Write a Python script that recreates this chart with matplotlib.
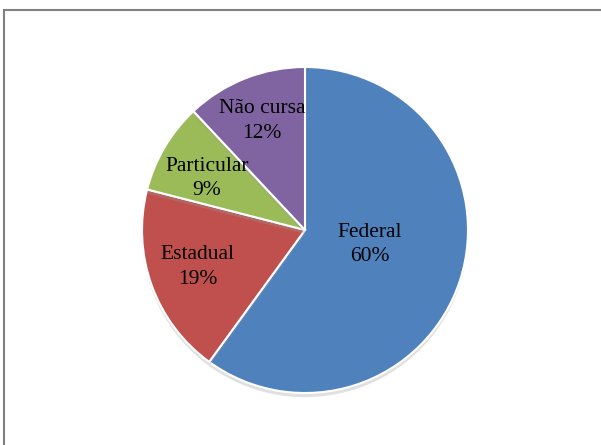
import numpy as np
import matplotlib.pyplot as plt
import matplotlib.patheffects as pe
from matplotlib.patches import Rectangle

# Data
categories = ['Federal', 'Estadual', 'Particular', 'Não cursa']
values = [60, 19, 9, 12]
colors = ['#4F81BD', '#C0504D', '#9BBB59', '#8064A2']
label_dist = [0.42, 0.70, 0.70, 0.72]
label_dy = [0.04, 0.01, -0.04, 0.0]  # small nudges to match the original placement

plt.rcParams['font.family'] = ['Liberation Serif', 'DejaVu Serif']

fig = plt.figure(figsize=(6.01, 4.45), dpi=100)
fig.patches.append(Rectangle((4 / 601, -0.1), 1.2, 1 - 10 / 445 + 0.1,
                             transform=fig.transFigure, fill=False,
                             edgecolor='#808080', linewidth=1.5))

ax = fig.add_axes([142 / 601, 52 / 445, 326 / 601, 326 / 445])
wedges, _ = ax.pie(values, colors=colors, startangle=90, counterclock=False,
                   radius=1.0,
                   wedgeprops=dict(edgecolor='white', linewidth=1.5))
for w in wedges:
    w.set_path_effects([pe.SimplePatchShadow(offset=(0, -3), shadow_rgbFace='#999999', alpha=0.3),
                        pe.Normal()])

total = sum(values)
for w, cat, v, d, dy in zip(wedges, categories, values, label_dist, label_dy):
    ang = np.deg2rad((w.theta1 + w.theta2) / 2)
    ax.text(d * np.cos(ang), d * np.sin(ang) + dy, f'{cat}\n{round(100 * v / total)}%',
            ha='center', va='center', fontsize=15.5, linespacing=1.4, color='black')

ax.set_xlim(-1, 1)
ax.set_ylim(-1, 1)
ax.set_aspect('equal')
ax.axis('off')

fig.savefig('out.png', dpi=100)
